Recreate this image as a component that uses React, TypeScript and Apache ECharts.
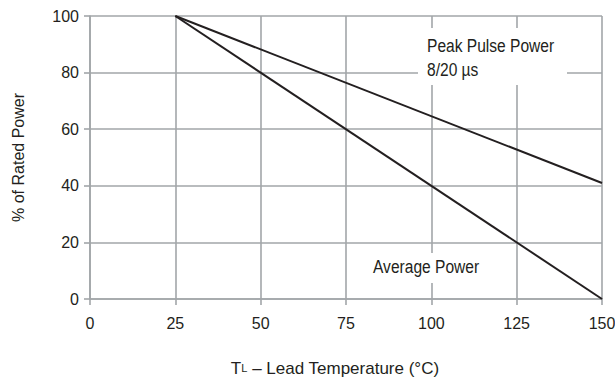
import React, { useEffect, useRef } from "react";
import * as echarts from "echarts";

const xTicks = [0, 25, 50, 75, 100, 125, 150];
const yTicks = [0, 20, 40, 60, 80, 100];
const avgTemp = [25, 150];
const avgPower = [100, 0];
const peakTemp = [25, 150];
const peakPower = [100, 41];

const FONT = '"Liberation Sans", Arial, sans-serif';
const GRID = "#a2a6a9";
const INK = "#231f20";

export default function App() {
  const ref = useRef<HTMLDivElement>(null);
  useEffect(() => {
    if (!ref.current) return;
    const chart = echarts.init(ref.current, undefined, { renderer: "svg" });
    chart.setOption({
      animation: false,
      backgroundColor: "#ffffff",
      grid: { left: 90, right: 13, top: 16, bottom: 82, containLabel: false, outerBoundsMode: "none" },
      textStyle: { fontFamily: FONT },
      xAxis: {
        type: "value",
        min: xTicks[0],
        max: xTicks[xTicks.length - 1],
        interval: xTicks[1] - xTicks[0],
        name: "{t|T}{s|L}{t| – Lead Temperature (°C)}",
        nameLocation: "middle",
        nameGap: 59,
        nameTextStyle: {
          padding: [0, 22, 0, 0],
          rich: {
            t: { fontFamily: FONT, fontSize: 17, lineHeight: 20, color: INK },
            s: { fontFamily: FONT, fontSize: 11, lineHeight: 20, color: INK },
          },
        },
        axisLine: { show: true, lineStyle: { color: GRID, width: 1.6 } },
        axisTick: { show: true, length: 6, lineStyle: { color: GRID, width: 1.6 } },
        axisLabel: { margin: 16, fontFamily: FONT, fontSize: 16, color: INK },
        splitLine: { show: true, lineStyle: { color: GRID, width: 1.6 } },
      },
      yAxis: {
        type: "value",
        min: yTicks[0],
        max: yTicks[yTicks.length - 1],
        interval: yTicks[1] - yTicks[0],
        name: "% of Rated Power",
        nameLocation: "middle",
        nameGap: 64,
        nameTextStyle: { fontFamily: FONT, fontSize: 16, color: INK },
        axisLine: { show: true, lineStyle: { color: GRID, width: 1.6 } },
        axisTick: { show: true, length: 6, lineStyle: { color: GRID, width: 1.6 } },
        axisLabel: { margin: 11, fontFamily: FONT, fontSize: 16, color: INK },
        splitLine: { show: true, lineStyle: { color: GRID, width: 1.6 } },
      },
      series: [
        {
          type: "line",
          name: "Average Power",
          data: avgTemp.map((t, i) => [t, avgPower[i]]),
          showSymbol: false,
          lineStyle: { color: INK, width: 2 },
          z: 5,
        },
        {
          type: "line",
          name: "Peak Pulse Power",
          data: peakTemp.map((t, i) => [t, peakPower[i]]),
          showSymbol: false,
          lineStyle: { color: INK, width: 2 },
          z: 5,
        },
      ],
      graphic: [
        { type: "rect", z: 100, shape: { x: 418, y: 28, width: 149, height: 57 }, style: { fill: "#ffffff" } },
        {
          type: "text",
          z: 101,
          x: 427,
          y: 33,
          scaleX: 0.82,
          style: { text: "Peak Pulse Power\n8/20 µs", font: `19px ${FONT}`, fill: INK, lineHeight: 24 },
        },
        { type: "rect", z: 100, shape: { x: 365, y: 253, width: 125, height: 30 }, style: { fill: "#ffffff" } },
        {
          type: "text",
          z: 101,
          x: 373,
          y: 257,
          scaleX: 0.82,
          style: { text: "Average Power", font: `19px ${FONT}`, fill: INK },
        },
      ],
    });
    return () => chart.dispose();
  }, []);
  return <div ref={ref} style={{ width: 615, height: 381, position: "absolute", left: 0, top: 0 }} />;
}
